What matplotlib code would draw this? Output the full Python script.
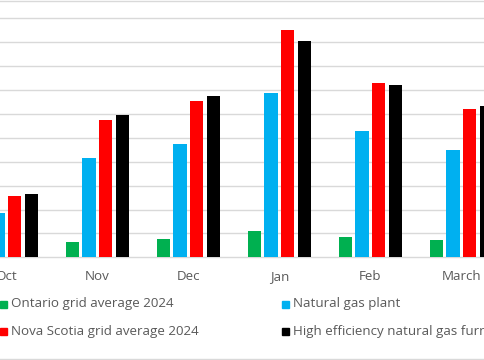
import matplotlib
matplotlib.use("Agg")
import matplotlib.pyplot as plt
from matplotlib.patches import Rectangle
from matplotlib.lines import Line2D
import numpy as np

months = ["Oct", "Nov", "Dec", "Jan", "Feb", "March"]
series_names = ["Ontario grid average 2024", "Natural gas plant",
                "Nova Scotia grid average 2024", "High efficiency natural gas furnace"]
ontario = [0.6, 0.65, 0.75, 1.10, 0.84, 0.72]
gas_plant = [1.84, 4.17, 4.73, 6.89, 5.28, 4.48]
nova_scotia = [2.55, 5.74, 6.53, 9.52, 7.29, 6.19]
furnace = [2.65, 5.94, 6.74, 9.05, 7.21, 6.33]
colors = ["#00B050", "#00B0F0", "#FF0000", "#000000"]

W, H = 485, 360
fig = plt.figure(figsize=(W / 100, H / 100), dpi=100)
base_px = 257.3
ax = fig.add_axes([0, 1 - base_px / H, 1, base_px / H])

x = np.arange(len(months))
pitch = 16.6 / 91
bw = 13.2 / 91
all_series = [ontario, gas_plant, nova_scotia, furnace]
for i, (vals, c) in enumerate(zip(all_series, colors)):
    ax.bar(x + (i - 1.5) * pitch, vals, width=bw, color=c, zorder=3,
           label=series_names[i])

ax.set_xlim(-6.3 / 91, (W - 6.3) / 91)
ax.set_ylim(0, base_px / 23.9)
ax.set_yticks(range(1, 11))
ax.yaxis.grid(True, color="#d9d9d9", linewidth=1.0, zorder=0)
ax.tick_params(left=False, labelleft=False, bottom=False, labelbottom=False)
for s in ["top", "left", "right"]:
    ax.spines[s].set_visible(False)
ax.spines["bottom"].set_color("#d9d9d9")
ax.spines["bottom"].set_linewidth(1.0)

font = "Open Sans"
fs = 9.6
for xi, m in zip(x, months):
    fig.text((6.3 + 91 * xi) / W, 1 - 276.5 / H, m, ha="center", va="center",
             fontsize=fs, color="#595959", family=font)

# top / bottom chart frame lines
fig.add_artist(Line2D([0, 1], [1 - 0.6 / H, 1 - 0.6 / H], color="#d9d9d9", lw=1.0))
fig.add_artist(Line2D([0, 1], [1 - 358.5 / H, 1 - 358.5 / H], color="#d9d9d9", lw=1.0))

# legend
leg_pos = [(0, 304), (281.7, 304), (0, 331), (281.7, 331)]
order = [0, 1, 2, 3]
for (lx, ly), i in zip(leg_pos, order):
    fig.add_artist(Rectangle((lx / W, (H - ly - 3.5) / H), 7 / W, 7 / H,
                             color=colors[i], transform=fig.transFigure))
    fig.text((lx + 11) / W, 1 - ly / H, series_names[i], ha="left", va="center",
             fontsize=fs, color="#595959", family=font)

fig.savefig("out.png", dpi=100)
